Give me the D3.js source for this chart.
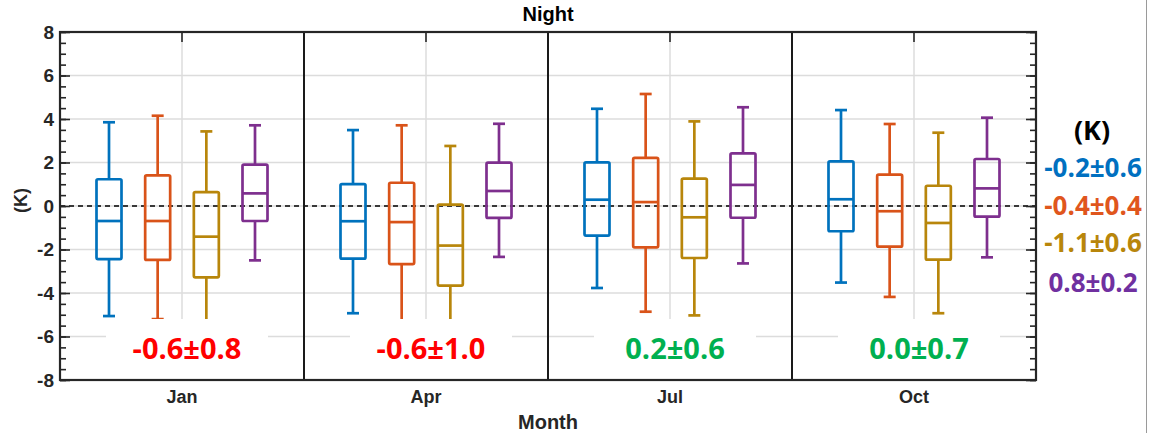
<!DOCTYPE html>
<html>
<head>
<meta charset="utf-8">
<script src="https://cdn.jsdelivr.net/npm/d3@7"></script>
<style>
  body { margin: 0; background: #fff; }
  svg { display: block; }
  .tick text { font-family: "Liberation Sans", Arial, sans-serif; font-weight: bold; fill: #262626; }
</style>
</head>
<body>
<div id="chart"></div>
<script>
// data
var months = ['Jan', 'Apr', 'Jul', 'Oct'];
var seriesNotes = ['-0.2±0.6', '-0.4±0.4', '-1.1±0.6', '0.8±0.2'];
var monthNotes = ['-0.6±0.8', '-0.6±1.0', '0.2±0.6', '0.0±0.7'];
var yTicks = [-8, -6, -4, -2, 0, 2, 4, 6, 8];

// one row per month, one value per series
var whiskerHigh = [[3.85, 4.15, 3.43, 3.71], [3.49, 3.71, 2.76, 3.78], [4.47, 5.15, 3.89, 4.54], [4.41, 3.77, 3.37, 4.06]];
var upperQuartile = [[1.23, 1.41, 0.64, 1.90], [1.01, 1.07, 0.06, 1.99], [2.01, 2.21, 1.26, 2.42], [2.05, 1.44, 0.93, 2.16]];
var medians = [[-0.69, -0.69, -1.41, 0.58], [-0.70, -0.74, -1.82, 0.69], [0.29, 0.18, -0.52, 0.97], [0.31, -0.24, -0.78, 0.81]];
var lowerQuartile = [[-2.44, -2.48, -3.28, -0.69], [-2.42, -2.67, -3.66, -0.55], [-1.36, -1.90, -2.39, -0.54], [-1.16, -1.87, -2.47, -0.49]];
var whiskerLow = [[-5.06, -5.2, -5.9, -2.50], [-4.93, -5.6, -5.5, -2.34], [-3.77, -4.86, -5.03, -2.64], [-3.52, -4.18, -4.93, -2.36]];

var boxColors = ['#0072BD', '#D95319', '#B8860B', '#7E2F8E'];
var noteColors = ['#0070C0', '#E0561D', '#B8860B', '#7030A0'];
var monthNoteColors = ['#ff0000', '#ff0000', '#00b050', '#00b050'];

var width = 1150, height = 433;
var plotLeft = 60, plotRight = 1036, plotTop = 32, plotBottom = 380;
var axisColor = '#262626';

var svg = d3.select('#chart').append('svg')
    .attr('width', width)
    .attr('height', height);

var x = d3.scaleBand().domain(months).range([plotLeft, plotRight]);
var inner = d3.scalePoint().domain(d3.range(4)).range([-73, 73]);
var y = d3.scaleLinear().domain([-8, 8]).range([plotBottom, plotTop]);

// flatten to one record per box
var boxes = [];
months.forEach(function(m, i){
    d3.range(4).forEach(function(s){
        boxes.push({
            month: m, s: s,
            hi: whiskerHigh[i][s], q3: upperQuartile[i][s], med: medians[i][s],
            q1: lowerQuartile[i][s], lo: whiskerLow[i][s]
        });
    });
});

//grid
svg.append('g').selectAll('line')
    .data(yTicks.slice(1, -1))
    .enter().append('line')
    .attr('x1', plotLeft).attr('x2', plotRight)
    .attr('y1', function(d){ return y(d); })
    .attr('y2', function(d){ return y(d); })
    .attr('stroke', '#dcdcdc').attr('stroke-width', 1.5);

svg.append('g').selectAll('line')
    .data(months)
    .enter().append('line')
    .attr('x1', function(d){ return x(d) + x.bandwidth()/2; })
    .attr('x2', function(d){ return x(d) + x.bandwidth()/2; })
    .attr('y1', plotTop).attr('y2', plotBottom)
    .attr('stroke', '#dcdcdc').attr('stroke-width', 1.5);

// zero line
svg.append('line')
    .attr('x1', plotLeft).attr('x2', plotRight)
    .attr('y1', y(0)).attr('y2', y(0))
    .attr('stroke', '#000').attr('stroke-width', 1.4)
    .attr('stroke-dasharray', '5,4');

// boxes
var bw = 25, capW = 12;
var g = svg.append('g').selectAll('g')
    .data(boxes)
    .enter().append('g')
    .attr('transform', function(d){
        return 'translate(' + (x(d.month) + x.bandwidth()/2 + inner(d.s)) + ',0)';
    })
    .attr('stroke', function(d){ return boxColors[d.s]; })
    .attr('stroke-width', 2.7)
    .attr('fill', 'none');

g.append('line').attr('x1', 0).attr('x2', 0)
    .attr('y1', function(d){ return y(d.hi); })
    .attr('y2', function(d){ return y(d.q3); });
g.append('line').attr('x1', 0).attr('x2', 0)
    .attr('y1', function(d){ return y(d.q1); })
    .attr('y2', function(d){ return y(d.lo); });
g.append('line').attr('x1', -capW/2).attr('x2', capW/2)
    .attr('y1', function(d){ return y(d.hi); })
    .attr('y2', function(d){ return y(d.hi); });
g.append('line').attr('x1', -capW/2).attr('x2', capW/2)
    .attr('y1', function(d){ return y(d.lo); })
    .attr('y2', function(d){ return y(d.lo); });
g.append('rect')
    .attr('x', -bw/2).attr('width', bw)
    .attr('y', function(d){ return y(d.q3); })
    .attr('height', function(d){ return y(d.q1) - y(d.q3); })
    .attr('rx', 1.5);
g.append('line').attr('x1', -bw/2).attr('x2', bw/2)
    .attr('y1', function(d){ return y(d.med); })
    .attr('y2', function(d){ return y(d.med); });

// month notes on white patches
var notes = svg.append('g').selectAll('g')
    .data(months)
    .enter().append('g')
    .attr('transform', function(d){ return 'translate(' + (x(d) + x.bandwidth()/2 + 5) + ',0)'; });
notes.append('rect')
    .attr('x', -81).attr('width', 162)
    .attr('y', 319).attr('height', plotBottom - 320)
    .attr('fill', '#fff');
notes.append('text')
    .attr('y', 359)
    .attr('text-anchor', 'middle')
    .attr('font-family', '"Open Sans", sans-serif')
    .attr('font-weight', 'bold')
    .attr('font-size', 29)
    .attr('fill', function(d, i){ return monthNoteColors[i]; })
    .text(function(d, i){ return monthNotes[i]; });

// panel dividers
svg.append('g').selectAll('line')
    .data(months.slice(1))
    .enter().append('line')
    .attr('x1', function(d){ return x(d); })
    .attr('x2', function(d){ return x(d); })
    .attr('y1', plotTop).attr('y2', plotBottom)
    .attr('stroke', '#1a1a1a').attr('stroke-width', 2);

// axes
var minor = d3.range(-8, 8.01, 0.5);
svg.append('g').attr('transform', 'translate(' + plotLeft + ',0)')
    .call(d3.axisRight(y).tickValues(minor).tickSize(6).tickFormat(''));
svg.append('g').attr('transform', 'translate(' + plotLeft + ',0)')
    .call(d3.axisRight(y).tickValues(yTicks).tickSize(10).tickFormat(''));
svg.append('g').attr('transform', 'translate(' + plotRight + ',0)')
    .call(d3.axisLeft(y).tickValues(minor).tickSize(6).tickFormat(''));
svg.append('g').attr('transform', 'translate(' + plotRight + ',0)')
    .call(d3.axisLeft(y).tickValues(yTicks).tickSize(10).tickFormat(''));
svg.append('g').attr('transform', 'translate(0,' + plotTop + ')')
    .call(d3.axisBottom(x).tickSize(10).tickFormat(''));

var yLab = svg.append('g').attr('transform', 'translate(' + plotLeft + ',0)')
    .call(d3.axisLeft(y).tickValues(yTicks).tickSize(0).tickPadding(6)
        .tickFormat(function(d){ return String(d); }));
yLab.selectAll('text').attr('font-size', 19);

var xLab = svg.append('g').attr('transform', 'translate(0,' + plotBottom + ')')
    .call(d3.axisBottom(x).tickSize(0).tickPadding(10));
xLab.selectAll('text').attr('font-size', 18);

svg.selectAll('.domain').remove();
svg.selectAll('.tick line').attr('stroke', axisColor).attr('stroke-width', 1.6);

svg.append('rect')
    .attr('x', plotLeft).attr('y', plotTop)
    .attr('width', plotRight - plotLeft).attr('height', plotBottom - plotTop)
    .attr('fill', 'none').attr('stroke', axisColor).attr('stroke-width', 2.2);

// titles
var labelFont = '"Liberation Sans", Arial, sans-serif';
var midX = plotLeft + (plotRight - plotLeft)/2;
svg.append('text')
    .attr('x', midX).attr('y', 21)
    .attr('text-anchor', 'middle')
    .attr('font-family', labelFont).attr('font-weight', 'bold').attr('font-size', 20)
    .attr('fill', '#000')
    .text('Night');
svg.append('text')
    .attr('x', midX).attr('y', 429)
    .attr('text-anchor', 'middle')
    .attr('font-family', labelFont).attr('font-weight', 'bold').attr('font-size', 20)
    .attr('fill', axisColor)
    .text('Month');
svg.append('text')
    .attr('transform', 'translate(27,' + y(0.25) + ') rotate(-90)')
    .attr('text-anchor', 'middle')
    .attr('font-family', labelFont).attr('font-weight', 'bold').attr('font-size', 18)
    .attr('fill', axisColor)
    .text('(K)');

// series legend on the right
svg.append('text')
    .attr('x', 1092).attr('y', 140)
    .attr('text-anchor', 'middle')
    .attr('font-family', '"Open Sans", sans-serif').attr('font-weight', 'bold').attr('font-size', 27)
    .attr('fill', '#000')
    .text('(K)');
var legendY = [177, 215, 252, 292];
svg.append('g').selectAll('text')
    .data(seriesNotes)
    .enter().append('text')
    .attr('x', 1093)
    .attr('y', function(d, i){ return legendY[i]; })
    .attr('text-anchor', 'middle')
    .attr('font-family', '"Open Sans", sans-serif').attr('font-weight', 'bold').attr('font-size', 26)
    .attr('fill', function(d, i){ return noteColors[i]; })
    .text(function(d){ return d; });

// edge line at the right of the picture
svg.append('line')
    .attr('x1', 1146.5).attr('x2', 1146.5).attr('y1', 0).attr('y2', height)
    .attr('stroke', '#9a9a9a').attr('stroke-width', 1);
</script>
</body>
</html>
